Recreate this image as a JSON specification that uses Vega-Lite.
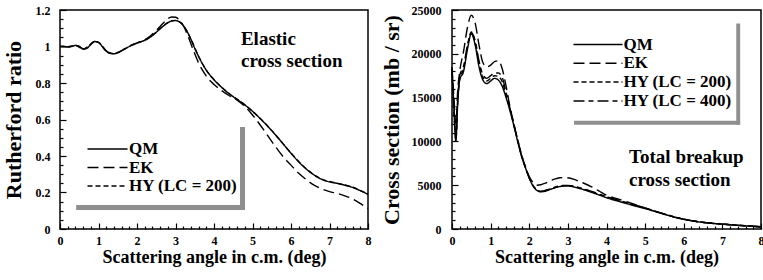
{
  "$schema": "https://vega.github.io/schema/vega-lite/v6.json",
  "padding": {"left": 1, "top": 3, "right": 3, "bottom": 0},
  "spacing": 7,
  "config": {
    "font": "Liberation Serif",
    "view": {"stroke": "black", "strokeWidth": 1.5},
    "axis": {
      "domain": false, "grid": false, "ticks": true,
      "tickColor": "black", "tickWidth": 1.2,
      "labelFont": "Liberation Serif", "labelFontWeight": "bold", "labelFontSize": 12, "labelColor": "black",
      "labelOverlap": false, "labelFlush": false,
      "titleFont": "Liberation Serif", "titleFontWeight": "bold", "titleColor": "black"
    },
    "legend": {
      "labelFont": "Liberation Serif", "labelFontWeight": "bold", "labelFontSize": 17, "labelColor": "black",
      "symbolStrokeColor": "black", "symbolStrokeWidth": 1.5, "symbolFillColor": "transparent",
      "padding": 0
    }
  },
  "datasets": {
    "elastic": [
      {"a":0.0,"v":1.000,"m":"QM"},{"a":0.1,"v":1.000,"m":"QM"},{"a":0.2,"v":0.998,"m":"QM"},{"a":0.3,"v":1.000,"m":"QM"},{"a":0.4,"v":1.006,"m":"QM"},{"a":0.5,"v":1.000,"m":"QM"},{"a":0.6,"v":0.986,"m":"QM"},{"a":0.7,"v":0.990,"m":"QM"},{"a":0.8,"v":1.012,"m":"QM"},{"a":0.9,"v":1.027,"m":"QM"},{"a":1.0,"v":1.022,"m":"QM"},{"a":1.1,"v":1.000,"m":"QM"},{"a":1.2,"v":0.975,"m":"QM"},{"a":1.3,"v":0.962,"m":"QM"},{"a":1.4,"v":0.960,"m":"QM"},{"a":1.5,"v":0.966,"m":"QM"},{"a":1.6,"v":0.976,"m":"QM"},{"a":1.7,"v":0.988,"m":"QM"},{"a":1.8,"v":1.000,"m":"QM"},{"a":1.9,"v":1.010,"m":"QM"},{"a":2.0,"v":1.018,"m":"QM"},{"a":2.1,"v":1.026,"m":"QM"},{"a":2.2,"v":1.034,"m":"QM"},{"a":2.3,"v":1.045,"m":"QM"},{"a":2.4,"v":1.060,"m":"QM"},{"a":2.5,"v":1.078,"m":"QM"},{"a":2.6,"v":1.097,"m":"QM"},{"a":2.7,"v":1.115,"m":"QM"},{"a":2.8,"v":1.130,"m":"QM"},{"a":2.9,"v":1.140,"m":"QM"},{"a":3.0,"v":1.142,"m":"QM"},{"a":3.1,"v":1.135,"m":"QM"},{"a":3.2,"v":1.115,"m":"QM"},{"a":3.3,"v":1.083,"m":"QM"},{"a":3.4,"v":1.040,"m":"QM"},{"a":3.5,"v":0.990,"m":"QM"},{"a":3.6,"v":0.945,"m":"QM"},{"a":3.7,"v":0.905,"m":"QM"},{"a":3.8,"v":0.870,"m":"QM"},{"a":3.9,"v":0.842,"m":"QM"},{"a":4.0,"v":0.818,"m":"QM"},{"a":4.2,"v":0.776,"m":"QM"},{"a":4.4,"v":0.740,"m":"QM"},{"a":4.6,"v":0.710,"m":"QM"},{"a":4.8,"v":0.680,"m":"QM"},{"a":5.0,"v":0.645,"m":"QM"},{"a":5.2,"v":0.605,"m":"QM"},{"a":5.4,"v":0.562,"m":"QM"},{"a":5.6,"v":0.515,"m":"QM"},{"a":5.8,"v":0.465,"m":"QM"},{"a":6.0,"v":0.415,"m":"QM"},{"a":6.2,"v":0.368,"m":"QM"},{"a":6.4,"v":0.328,"m":"QM"},{"a":6.6,"v":0.296,"m":"QM"},{"a":6.8,"v":0.272,"m":"QM"},{"a":7.0,"v":0.258,"m":"QM"},{"a":7.2,"v":0.250,"m":"QM"},{"a":7.4,"v":0.240,"m":"QM"},{"a":7.6,"v":0.228,"m":"QM"},{"a":7.8,"v":0.210,"m":"QM"},{"a":8.0,"v":0.190,"m":"QM"},
      {"a":0.0,"v":1.000,"m":"EK"},{"a":0.1,"v":1.000,"m":"EK"},{"a":0.2,"v":0.998,"m":"EK"},{"a":0.3,"v":1.001,"m":"EK"},{"a":0.4,"v":1.006,"m":"EK"},{"a":0.5,"v":1.000,"m":"EK"},{"a":0.6,"v":0.987,"m":"EK"},{"a":0.7,"v":0.991,"m":"EK"},{"a":0.8,"v":1.013,"m":"EK"},{"a":0.9,"v":1.028,"m":"EK"},{"a":1.0,"v":1.022,"m":"EK"},{"a":1.1,"v":1.000,"m":"EK"},{"a":1.2,"v":0.976,"m":"EK"},{"a":1.3,"v":0.963,"m":"EK"},{"a":1.4,"v":0.961,"m":"EK"},{"a":1.5,"v":0.967,"m":"EK"},{"a":1.6,"v":0.978,"m":"EK"},{"a":1.7,"v":0.990,"m":"EK"},{"a":1.8,"v":1.002,"m":"EK"},{"a":1.9,"v":1.012,"m":"EK"},{"a":2.0,"v":1.020,"m":"EK"},{"a":2.1,"v":1.028,"m":"EK"},{"a":2.2,"v":1.037,"m":"EK"},{"a":2.3,"v":1.050,"m":"EK"},{"a":2.4,"v":1.068,"m":"EK"},{"a":2.5,"v":1.088,"m":"EK"},{"a":2.6,"v":1.110,"m":"EK"},{"a":2.7,"v":1.132,"m":"EK"},{"a":2.8,"v":1.152,"m":"EK"},{"a":2.9,"v":1.162,"m":"EK"},{"a":3.0,"v":1.160,"m":"EK"},{"a":3.1,"v":1.145,"m":"EK"},{"a":3.2,"v":1.115,"m":"EK"},{"a":3.3,"v":1.070,"m":"EK"},{"a":3.4,"v":1.015,"m":"EK"},{"a":3.5,"v":0.960,"m":"EK"},{"a":3.6,"v":0.910,"m":"EK"},{"a":3.7,"v":0.870,"m":"EK"},{"a":3.8,"v":0.838,"m":"EK"},{"a":3.9,"v":0.812,"m":"EK"},{"a":4.0,"v":0.792,"m":"EK"},{"a":4.2,"v":0.758,"m":"EK"},{"a":4.4,"v":0.730,"m":"EK"},{"a":4.6,"v":0.706,"m":"EK"},{"a":4.8,"v":0.672,"m":"EK"},{"a":5.0,"v":0.625,"m":"EK"},{"a":5.2,"v":0.570,"m":"EK"},{"a":5.4,"v":0.510,"m":"EK"},{"a":5.6,"v":0.450,"m":"EK"},{"a":5.8,"v":0.395,"m":"EK"},{"a":6.0,"v":0.350,"m":"EK"},{"a":6.2,"v":0.305,"m":"EK"},{"a":6.4,"v":0.270,"m":"EK"},{"a":6.6,"v":0.240,"m":"EK"},{"a":6.8,"v":0.220,"m":"EK"},{"a":7.0,"v":0.205,"m":"EK"},{"a":7.2,"v":0.195,"m":"EK"},{"a":7.4,"v":0.182,"m":"EK"},{"a":7.6,"v":0.165,"m":"EK"},{"a":7.8,"v":0.140,"m":"EK"},{"a":8.0,"v":0.112,"m":"EK"},
      {"a":0.0,"v":1.000,"m":"HY (LC = 200)"},{"a":0.2,"v":0.999,"m":"HY (LC = 200)"},{"a":0.4,"v":1.006,"m":"HY (LC = 200)"},{"a":0.6,"v":0.987,"m":"HY (LC = 200)"},{"a":0.8,"v":1.012,"m":"HY (LC = 200)"},{"a":0.9,"v":1.027,"m":"HY (LC = 200)"},{"a":1.0,"v":1.022,"m":"HY (LC = 200)"},{"a":1.2,"v":0.976,"m":"HY (LC = 200)"},{"a":1.4,"v":0.961,"m":"HY (LC = 200)"},{"a":1.6,"v":0.977,"m":"HY (LC = 200)"},{"a":1.8,"v":1.001,"m":"HY (LC = 200)"},{"a":2.0,"v":1.019,"m":"HY (LC = 200)"},{"a":2.2,"v":1.035,"m":"HY (LC = 200)"},{"a":2.4,"v":1.061,"m":"HY (LC = 200)"},{"a":2.6,"v":1.098,"m":"HY (LC = 200)"},{"a":2.8,"v":1.131,"m":"HY (LC = 200)"},{"a":2.9,"v":1.141,"m":"HY (LC = 200)"},{"a":3.0,"v":1.143,"m":"HY (LC = 200)"},{"a":3.1,"v":1.136,"m":"HY (LC = 200)"},{"a":3.2,"v":1.116,"m":"HY (LC = 200)"},{"a":3.4,"v":1.041,"m":"HY (LC = 200)"},{"a":3.6,"v":0.946,"m":"HY (LC = 200)"},{"a":3.8,"v":0.871,"m":"HY (LC = 200)"},{"a":4.0,"v":0.819,"m":"HY (LC = 200)"},{"a":4.4,"v":0.741,"m":"HY (LC = 200)"},{"a":4.8,"v":0.681,"m":"HY (LC = 200)"},{"a":5.2,"v":0.606,"m":"HY (LC = 200)"},{"a":5.6,"v":0.516,"m":"HY (LC = 200)"},{"a":6.0,"v":0.416,"m":"HY (LC = 200)"},{"a":6.4,"v":0.329,"m":"HY (LC = 200)"},{"a":6.8,"v":0.273,"m":"HY (LC = 200)"},{"a":7.2,"v":0.251,"m":"HY (LC = 200)"},{"a":7.6,"v":0.229,"m":"HY (LC = 200)"},{"a":8.0,"v":0.191,"m":"HY (LC = 200)"}
    ],
    "breakup": [
      {"a":0.0,"v":18300,"m":"QM"},{"a":0.05,"v":14000,"m":"QM"},{"a":0.1,"v":10000,"m":"QM"},{"a":0.15,"v":14500,"m":"QM"},{"a":0.2,"v":17000,"m":"QM"},{"a":0.3,"v":18000,"m":"QM"},{"a":0.4,"v":20500,"m":"QM"},{"a":0.5,"v":22300,"m":"QM"},{"a":0.6,"v":21000,"m":"QM"},{"a":0.7,"v":18500,"m":"QM"},{"a":0.8,"v":17000,"m":"QM"},{"a":0.9,"v":16600,"m":"QM"},{"a":1.0,"v":16900,"m":"QM"},{"a":1.1,"v":17200,"m":"QM"},{"a":1.2,"v":17000,"m":"QM"},{"a":1.3,"v":16300,"m":"QM"},{"a":1.4,"v":15000,"m":"QM"},{"a":1.5,"v":13500,"m":"QM"},{"a":1.6,"v":11800,"m":"QM"},{"a":1.7,"v":10000,"m":"QM"},{"a":1.8,"v":8300,"m":"QM"},{"a":1.9,"v":7000,"m":"QM"},{"a":2.0,"v":5800,"m":"QM"},{"a":2.1,"v":4900,"m":"QM"},{"a":2.2,"v":4400,"m":"QM"},{"a":2.3,"v":4250,"m":"QM"},{"a":2.4,"v":4300,"m":"QM"},{"a":2.5,"v":4450,"m":"QM"},{"a":2.6,"v":4600,"m":"QM"},{"a":2.7,"v":4750,"m":"QM"},{"a":2.8,"v":4850,"m":"QM"},{"a":2.9,"v":4900,"m":"QM"},{"a":3.0,"v":4900,"m":"QM"},{"a":3.2,"v":4750,"m":"QM"},{"a":3.4,"v":4500,"m":"QM"},{"a":3.6,"v":4200,"m":"QM"},{"a":3.8,"v":3900,"m":"QM"},{"a":4.0,"v":3570,"m":"QM"},{"a":4.2,"v":3300,"m":"QM"},{"a":4.4,"v":3050,"m":"QM"},{"a":4.6,"v":2800,"m":"QM"},{"a":4.8,"v":2550,"m":"QM"},{"a":5.0,"v":2330,"m":"QM"},{"a":5.2,"v":2070,"m":"QM"},{"a":5.4,"v":1800,"m":"QM"},{"a":5.6,"v":1550,"m":"QM"},{"a":5.8,"v":1300,"m":"QM"},{"a":6.0,"v":1100,"m":"QM"},{"a":6.2,"v":950,"m":"QM"},{"a":6.4,"v":800,"m":"QM"},{"a":6.6,"v":700,"m":"QM"},{"a":6.8,"v":620,"m":"QM"},{"a":7.0,"v":550,"m":"QM"},{"a":7.2,"v":480,"m":"QM"},{"a":7.4,"v":420,"m":"QM"},{"a":7.6,"v":360,"m":"QM"},{"a":7.8,"v":300,"m":"QM"},{"a":8.0,"v":250,"m":"QM"},
      {"a":0.0,"v":18500,"m":"EK"},{"a":0.05,"v":15000,"m":"EK"},{"a":0.1,"v":12000,"m":"EK"},{"a":0.15,"v":16000,"m":"EK"},{"a":0.2,"v":18000,"m":"EK"},{"a":0.3,"v":20300,"m":"EK"},{"a":0.4,"v":23000,"m":"EK"},{"a":0.5,"v":24400,"m":"EK"},{"a":0.6,"v":23500,"m":"EK"},{"a":0.7,"v":21000,"m":"EK"},{"a":0.8,"v":19000,"m":"EK"},{"a":0.9,"v":18500,"m":"EK"},{"a":1.0,"v":18700,"m":"EK"},{"a":1.1,"v":19100,"m":"EK"},{"a":1.2,"v":19200,"m":"EK"},{"a":1.3,"v":18300,"m":"EK"},{"a":1.4,"v":16300,"m":"EK"},{"a":1.5,"v":14000,"m":"EK"},{"a":1.6,"v":12000,"m":"EK"},{"a":1.7,"v":10200,"m":"EK"},{"a":1.8,"v":8500,"m":"EK"},{"a":1.9,"v":7100,"m":"EK"},{"a":2.0,"v":6000,"m":"EK"},{"a":2.1,"v":5300,"m":"EK"},{"a":2.2,"v":5000,"m":"EK"},{"a":2.3,"v":5050,"m":"EK"},{"a":2.4,"v":5200,"m":"EK"},{"a":2.5,"v":5400,"m":"EK"},{"a":2.6,"v":5600,"m":"EK"},{"a":2.7,"v":5750,"m":"EK"},{"a":2.8,"v":5850,"m":"EK"},{"a":2.9,"v":5870,"m":"EK"},{"a":3.0,"v":5850,"m":"EK"},{"a":3.2,"v":5600,"m":"EK"},{"a":3.4,"v":5250,"m":"EK"},{"a":3.6,"v":4850,"m":"EK"},{"a":3.8,"v":4350,"m":"EK"},{"a":4.0,"v":3850,"m":"EK"},{"a":4.2,"v":3550,"m":"EK"},{"a":4.4,"v":3280,"m":"EK"},{"a":4.6,"v":3000,"m":"EK"},{"a":4.8,"v":2700,"m":"EK"},{"a":5.0,"v":2400,"m":"EK"},{"a":5.2,"v":2120,"m":"EK"},{"a":5.4,"v":1840,"m":"EK"},{"a":5.6,"v":1580,"m":"EK"},{"a":5.8,"v":1320,"m":"EK"},{"a":6.0,"v":1120,"m":"EK"},{"a":6.4,"v":810,"m":"EK"},{"a":6.8,"v":630,"m":"EK"},{"a":7.2,"v":490,"m":"EK"},{"a":7.6,"v":365,"m":"EK"},{"a":8.0,"v":255,"m":"EK"},
      {"a":0.0,"v":18200,"m":"HY (LC = 200)"},{"a":0.05,"v":13800,"m":"HY (LC = 200)"},{"a":0.1,"v":10200,"m":"HY (LC = 200)"},{"a":0.15,"v":14800,"m":"HY (LC = 200)"},{"a":0.2,"v":17200,"m":"HY (LC = 200)"},{"a":0.3,"v":18300,"m":"HY (LC = 200)"},{"a":0.4,"v":20800,"m":"HY (LC = 200)"},{"a":0.5,"v":22500,"m":"HY (LC = 200)"},{"a":0.6,"v":21300,"m":"HY (LC = 200)"},{"a":0.7,"v":18900,"m":"HY (LC = 200)"},{"a":0.8,"v":17300,"m":"HY (LC = 200)"},{"a":0.9,"v":16900,"m":"HY (LC = 200)"},{"a":1.0,"v":17200,"m":"HY (LC = 200)"},{"a":1.1,"v":17500,"m":"HY (LC = 200)"},{"a":1.2,"v":17400,"m":"HY (LC = 200)"},{"a":1.3,"v":16800,"m":"HY (LC = 200)"},{"a":1.4,"v":15300,"m":"HY (LC = 200)"},{"a":1.5,"v":13700,"m":"HY (LC = 200)"},{"a":1.6,"v":11900,"m":"HY (LC = 200)"},{"a":1.7,"v":10100,"m":"HY (LC = 200)"},{"a":1.8,"v":8400,"m":"HY (LC = 200)"},{"a":1.9,"v":7050,"m":"HY (LC = 200)"},{"a":2.0,"v":5850,"m":"HY (LC = 200)"},{"a":2.1,"v":4950,"m":"HY (LC = 200)"},{"a":2.2,"v":4450,"m":"HY (LC = 200)"},{"a":2.3,"v":4300,"m":"HY (LC = 200)"},{"a":2.5,"v":4500,"m":"HY (LC = 200)"},{"a":2.7,"v":4800,"m":"HY (LC = 200)"},{"a":2.9,"v":4950,"m":"HY (LC = 200)"},{"a":3.0,"v":4950,"m":"HY (LC = 200)"},{"a":3.4,"v":4560,"m":"HY (LC = 200)"},{"a":3.8,"v":3970,"m":"HY (LC = 200)"},{"a":4.2,"v":3380,"m":"HY (LC = 200)"},{"a":4.6,"v":2880,"m":"HY (LC = 200)"},{"a":5.0,"v":2380,"m":"HY (LC = 200)"},{"a":5.4,"v":1830,"m":"HY (LC = 200)"},{"a":5.8,"v":1320,"m":"HY (LC = 200)"},{"a":6.2,"v":960,"m":"HY (LC = 200)"},{"a":6.6,"v":710,"m":"HY (LC = 200)"},{"a":7.0,"v":555,"m":"HY (LC = 200)"},{"a":7.4,"v":425,"m":"HY (LC = 200)"},{"a":8.0,"v":252,"m":"HY (LC = 200)"},
      {"a":0.0,"v":17800,"m":"HY (LC = 400)"},{"a":0.05,"v":13000,"m":"HY (LC = 400)"},{"a":0.1,"v":10500,"m":"HY (LC = 400)"},{"a":0.15,"v":15000,"m":"HY (LC = 400)"},{"a":0.2,"v":17500,"m":"HY (LC = 400)"},{"a":0.3,"v":18600,"m":"HY (LC = 400)"},{"a":0.4,"v":21000,"m":"HY (LC = 400)"},{"a":0.5,"v":22400,"m":"HY (LC = 400)"},{"a":0.6,"v":21500,"m":"HY (LC = 400)"},{"a":0.7,"v":19200,"m":"HY (LC = 400)"},{"a":0.8,"v":17600,"m":"HY (LC = 400)"},{"a":0.9,"v":17200,"m":"HY (LC = 400)"},{"a":1.0,"v":17500,"m":"HY (LC = 400)"},{"a":1.1,"v":17800,"m":"HY (LC = 400)"},{"a":1.2,"v":17800,"m":"HY (LC = 400)"},{"a":1.3,"v":17300,"m":"HY (LC = 400)"},{"a":1.4,"v":15600,"m":"HY (LC = 400)"},{"a":1.5,"v":13800,"m":"HY (LC = 400)"},{"a":1.6,"v":12000,"m":"HY (LC = 400)"},{"a":1.7,"v":10150,"m":"HY (LC = 400)"},{"a":1.8,"v":8400,"m":"HY (LC = 400)"},{"a":1.9,"v":7050,"m":"HY (LC = 400)"},{"a":2.0,"v":5850,"m":"HY (LC = 400)"},{"a":2.1,"v":4950,"m":"HY (LC = 400)"},{"a":2.2,"v":4450,"m":"HY (LC = 400)"},{"a":2.3,"v":4300,"m":"HY (LC = 400)"},{"a":2.5,"v":4520,"m":"HY (LC = 400)"},{"a":2.7,"v":4830,"m":"HY (LC = 400)"},{"a":2.9,"v":4980,"m":"HY (LC = 400)"},{"a":3.0,"v":4980,"m":"HY (LC = 400)"},{"a":3.4,"v":4600,"m":"HY (LC = 400)"},{"a":3.8,"v":4000,"m":"HY (LC = 400)"},{"a":4.2,"v":3420,"m":"HY (LC = 400)"},{"a":4.6,"v":2920,"m":"HY (LC = 400)"},{"a":5.0,"v":2400,"m":"HY (LC = 400)"},{"a":5.4,"v":1850,"m":"HY (LC = 400)"},{"a":5.8,"v":1330,"m":"HY (LC = 400)"},{"a":6.2,"v":965,"m":"HY (LC = 400)"},{"a":6.6,"v":712,"m":"HY (LC = 400)"},{"a":7.0,"v":556,"m":"HY (LC = 400)"},{"a":7.4,"v":426,"m":"HY (LC = 400)"},{"a":8.0,"v":253,"m":"HY (LC = 400)"}
    ]
  },
  "resolve": {"scale": {"strokeDash": "independent"}, "legend": {"strokeDash": "independent"}},
  "hconcat": [
    {
      "width": 308, "height": 219,
      "resolve": {"axis": {"x": "independent", "y": "independent"}},
      "layer": [
        {
          "data": {"name": "elastic"},
          "mark": {"type": "line", "interpolate": "monotone", "color": "black", "strokeWidth": 1.4},
          "encoding": {
            "x": {"field": "a", "type": "quantitative", "scale": {"domain": [0, 8], "nice": false, "zero": false},
              "axis": {"orient": "bottom", "title": "Scattering angle in c.m. (deg)", "titleFontSize": 18, "titlePadding": 2, "labelPadding": 12, "tickSize": -6, "labelOverlap": false,
                "values": [0,1,2,3,4,5,6,7,8]}},
            "y": {"field": "v", "type": "quantitative", "scale": {"domain": [0, 1.2], "nice": false},
              "axis": {"orient": "left", "title": "Rutherford ratio", "titleFontSize": 22, "titlePadding": 10, "labelPadding": 16, "tickSize": -6, "labelOverlap": false,
                "values": [0,0.2,0.4,0.6,0.8,1,1.2], "labelExpr": "format(datum.value, '~g')"}},
            "strokeDash": {"field": "m", "type": "nominal",
              "scale": {"domain": ["QM", "EK", "HY (LC = 200)"], "range": [[1, 0], [11, 5], [5, 3]]},
              "legend": {"title": null, "orient": "none", "legendX": 39, "legendY": 130.5, "symbolType": "M-4,0H4", "symbolSize": 100, "labelOffset": 13, "rowPadding": 0.5}}
          }
        },
        {"data": {"values": [{}]}, "mark": {"type": "rect", "color": "#8f8f8f"},
         "encoding": {
           "x": {"datum": 0.42, "axis": {"orient": "bottom", "values": [0.2,0.4,0.6,0.8,1.2,1.4,1.6,1.8,2.2,2.4,2.6,2.8,3.2,3.4,3.6,3.8,4.2,4.4,4.6,4.8,5.2,5.4,5.6,5.8,6.2,6.4,6.6,6.8,7.2,7.4,7.6,7.8], "tickSize": -3, "labels": false, "title": null}},
           "x2": {"datum": 4.805},
           "y": {"datum": 0.1315, "axis": {"orient": "left", "values": [0.05,0.1,0.15,0.25,0.3,0.35,0.45,0.5,0.55,0.65,0.7,0.75,0.85,0.9,0.95,1.05,1.1,1.15], "tickSize": -3, "labels": false, "title": null}},
           "y2": {"datum": 0.104}}},
        {"data": {"values": [{}]}, "mark": {"type": "rect", "color": "#8f8f8f"},
         "encoding": {
           "x": {"datum": 4.675, "axis": {"orient": "bottom", "ticks": false, "labels": false, "title": null}},
           "x2": {"datum": 4.805},
           "y": {"datum": 0.559, "axis": {"orient": "left", "ticks": false, "labels": false, "title": null}},
           "y2": {"datum": 0.104}}},
        {"data": {"values": [{}]}, "mark": {"type": "text", "align": "left", "baseline": "alphabetic", "fontSize": 19, "fontWeight": "bold", "font": "Liberation Serif", "lineHeight": 22, "color": "black"},
         "encoding": {
           "x": {"datum": 4.7, "axis": {"orient": "bottom", "ticks": false, "labels": false, "title": null}},
           "y": {"datum": 1.008, "axis": {"orient": "left", "ticks": false, "labels": false, "title": null}},
           "text": {"value": ["Elastic", "cross section"]}}}
      ]
    },
    {
      "width": 309, "height": 219,
      "resolve": {"axis": {"x": "independent", "y": "independent"}},
      "layer": [
        {
          "data": {"name": "breakup"},
          "mark": {"type": "line", "interpolate": "monotone", "color": "black", "strokeWidth": 1.4},
          "encoding": {
            "x": {"field": "a", "type": "quantitative", "scale": {"domain": [0, 8], "nice": false, "zero": false},
              "axis": {"orient": "bottom", "title": "Scattering angle in c.m. (deg)", "titleFontSize": 18, "titlePadding": 2, "labelPadding": 12, "tickSize": -6, "labelOverlap": false,
                "values": [0,1,2,3,4,5,6,7,8]}},
            "y": {"field": "v", "type": "quantitative", "scale": {"domain": [0, 25000], "nice": false},
              "axis": {"orient": "left", "title": "Cross section (mb / sr)", "titleFontSize": 22, "titlePadding": 8, "labelPadding": 17, "tickSize": -6, "labelOverlap": false,
                "values": [0,5000,10000,15000,20000,25000], "labelExpr": "'' + datum.value"}},
            "strokeDash": {"field": "m", "type": "nominal",
              "scale": {"domain": ["QM", "EK", "HY (LC = 200)", "HY (LC = 400)"], "range": [[1, 0], [11, 5], [5, 3], [11, 4, 5, 4]]},
              "legend": {"title": null, "orient": "none", "legendX": 137.5, "legendY": 26, "symbolType": "M-4.9,0H4.9", "symbolSize": 100, "labelOffset": 17, "rowPadding": 0.8}}
          }
        },
        {"data": {"values": [{}]}, "mark": {"type": "rect", "color": "#8f8f8f"},
         "encoding": {
           "x": {"datum": 3.16, "axis": {"orient": "bottom", "values": [0.2,0.4,0.6,0.8,1.2,1.4,1.6,1.8,2.2,2.4,2.6,2.8,3.2,3.4,3.6,3.8,4.2,4.4,4.6,4.8,5.2,5.4,5.6,5.8,6.2,6.4,6.6,6.8,7.2,7.4,7.6,7.8], "tickSize": -3, "labels": false, "title": null}},
           "x2": {"datum": 7.46},
           "y": {"datum": 12360, "axis": {"orient": "left", "values": [1000,2000,3000,4000,6000,7000,8000,9000,11000,12000,13000,14000,16000,17000,18000,19000,21000,22000,23000,24000], "tickSize": -3, "labels": false, "title": null}},
           "y2": {"datum": 11900}}},
        {"data": {"values": [{}]}, "mark": {"type": "rect", "color": "#8f8f8f"},
         "encoding": {
           "x": {"datum": 7.36, "axis": {"orient": "bottom", "ticks": false, "labels": false, "title": null}},
           "x2": {"datum": 7.46},
           "y": {"datum": 23460, "axis": {"orient": "left", "ticks": false, "labels": false, "title": null}},
           "y2": {"datum": 11900}}},
        {"data": {"values": [{}]}, "mark": {"type": "text", "align": "left", "baseline": "alphabetic", "fontSize": 19, "fontWeight": "bold", "font": "Liberation Serif", "lineHeight": 23, "color": "black"},
         "encoding": {
           "x": {"datum": 4.585, "axis": {"orient": "bottom", "ticks": false, "labels": false, "title": null}},
           "y": {"datum": 7590, "axis": {"orient": "left", "ticks": false, "labels": false, "title": null}},
           "text": {"value": ["Total breakup", "cross section"]}}}
      ]
    }
  ]
}
